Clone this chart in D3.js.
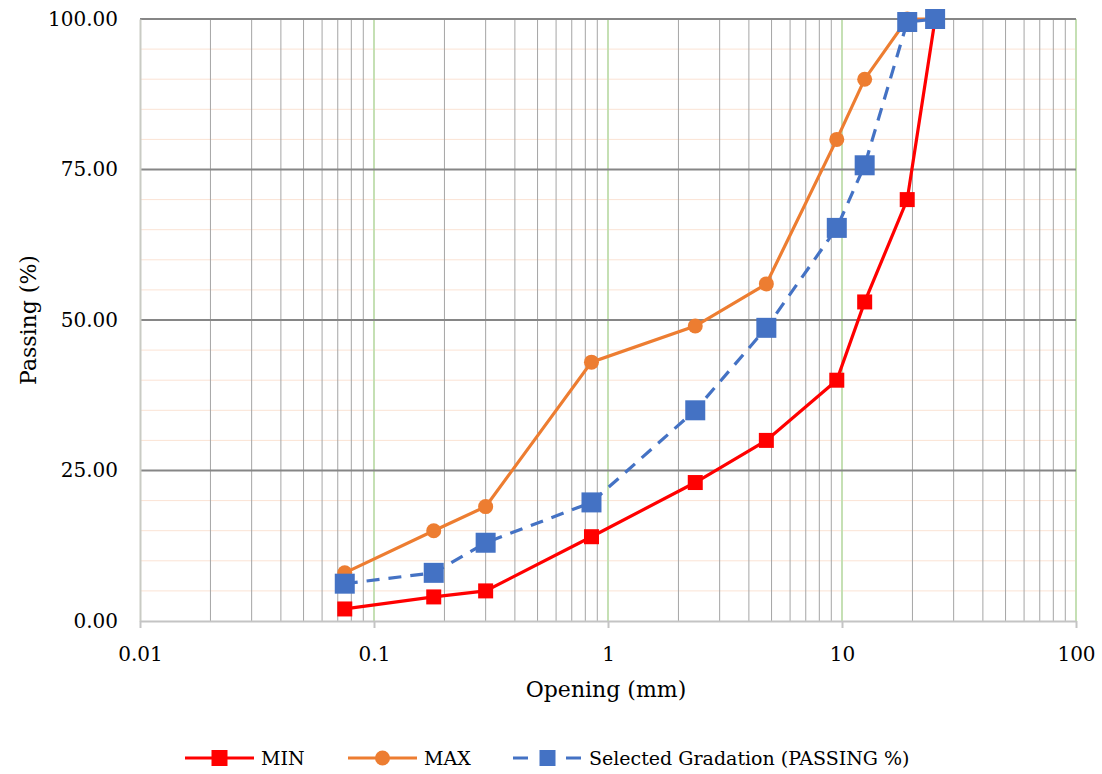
<!DOCTYPE html>
<html>
<head>
<meta charset="utf-8">
<script src="https://cdn.jsdelivr.net/npm/d3@7/dist/d3.min.js"></script>
<style>
  html, body { margin: 0; padding: 0; background: #fff; }
  svg { display: block; font-family: "DejaVu Serif", "Liberation Serif", serif; }
</style>
</head>
<body>
<svg id="chart" width="1102" height="774"></svg>
<script>
// Sieve openings (mm)
const openings = [0.075, 0.18, 0.3, 0.85, 2.36, 4.75, 9.5, 12.5, 19, 25];
// Gradation limits and selected gradation (% passing)
const minPassing = [2, 4, 5, 14, 23, 30, 40, 53, 70, 100];
const maxPassing = [8, 15, 19, 43, 49, 56, 80, 90, 100, 100];
const selectedPassing = [6.2, 8, 13, 19.7, 35, 48.7, 65.3, 75.7, 99.5, 100];

const xTicks = [0.01, 0.1, 1, 10, 100];
const xTickLabels = ["0.01", "0.1", "1", "10", "100"];
const yTicks = [0, 25, 50, 75, 100];

const seriesNames = ["MIN", "MAX", "Selected Gradation (PASSING %)"];

(function () {
const svg = d3.select("#chart");
const plotLeft = 140, plotRight = 1076, plotTop = 19, plotBottom = 621;

const x = d3.scaleLog().domain([0.01, 100]).range([plotLeft, plotRight]);
const y = d3.scaleLinear().domain([0, 100]).range([plotBottom, plotTop]);

const grid = svg.append("g");

// minor horizontal gridlines every 5
d3.range(5, 100, 5).filter(v => v % 25 !== 0).forEach(v => {
  grid.append("line").attr("x1", plotLeft).attr("x2", plotRight)
    .attr("y1", y(v)).attr("y2", y(v))
    .attr("stroke", "#fbe3d4").attr("stroke-width", 1);
});

// minor vertical gridlines (2..9 within each decade)
const minorX = [];
for (let d = 0.01; d < 99; d *= 10) {
  for (let k = 2; k <= 9; k++) minorX.push(d * k);
}
minorX.forEach(v => {
  grid.append("line").attr("x1", x(v)).attr("x2", x(v))
    .attr("y1", plotTop).attr("y2", plotBottom)
    .attr("stroke", "#a5a5a5").attr("stroke-width", 1);
});

// major vertical gridlines at decades
xTicks.slice(1).forEach(v => {
  grid.append("line").attr("x1", x(v)).attr("x2", x(v))
    .attr("y1", plotTop).attr("y2", plotBottom)
    .attr("stroke", "#c5e0b4").attr("stroke-width", 2);
});

// major horizontal gridlines
yTicks.filter(v => v > 0).forEach(v => {
  grid.append("line").attr("x1", plotLeft).attr("x2", plotRight)
    .attr("y1", y(v)).attr("y2", y(v))
    .attr("stroke", "#868686").attr("stroke-width", 2);
});

// y axis
const yAxis = d3.axisLeft(y).tickValues(yTicks).tickFormat(d3.format(".2f")).tickSize(0).tickPadding(22);
const gy = svg.append("g").attr("transform", `translate(${plotLeft},0)`).call(yAxis);
gy.select(".domain").attr("stroke", "#c9cbc4").attr("stroke-width", 2);
gy.selectAll("text").attr("font-size", 20).attr("fill", "#000")
  .attr("font-family", "DejaVu Serif, serif");

// x axis
const xAxis = d3.axisBottom(x).tickValues(xTicks).tickFormat((d, i) => xTickLabels[i]).tickSize(7).tickSizeOuter(0).tickPadding(19);
const gx = svg.append("g").attr("transform", `translate(0,${plotBottom})`).call(xAxis);
gx.select(".domain").attr("stroke", "#c4c4c4").attr("stroke-width", 2);
gx.selectAll(".tick line").attr("stroke", "#c4c4c4").attr("stroke-width", 2);
gx.selectAll("text").attr("font-size", 20).attr("fill", "#000")
  .attr("font-family", "DejaVu Serif, serif");

// axis titles
svg.append("text").attr("x", 606).attr("y", 697).attr("text-anchor", "middle")
  .attr("font-size", 22).text("Opening (mm)");
svg.append("text").attr("transform", "translate(36,320) rotate(-90)")
  .attr("text-anchor", "middle").attr("font-size", 22).text("Passing (%)");

const line = d3.line().x(d => x(d[0])).y(d => y(d[1]));
const pts = vals => openings.map((o, i) => [o, vals[i]]);

const plot = svg.append("g");

// MIN
plot.append("path").datum(pts(minPassing)).attr("d", line)
  .attr("fill", "none").attr("stroke", "#ff0000").attr("stroke-width", 3.2);
plot.selectAll(".minpt").data(pts(minPassing)).join("rect")
  .attr("x", d => x(d[0]) - 7.5).attr("y", d => y(d[1]) - 7.5)
  .attr("width", 15).attr("height", 15).attr("fill", "#ff0000");

// MAX
plot.append("path").datum(pts(maxPassing)).attr("d", line)
  .attr("fill", "none").attr("stroke", "#ed7d31").attr("stroke-width", 3.2);
plot.selectAll(".maxpt").data(pts(maxPassing)).join("circle")
  .attr("cx", d => x(d[0])).attr("cy", d => y(d[1])).attr("r", 7.5)
  .attr("fill", "#ed7d31");

// Selected gradation
plot.append("path").datum(pts(selectedPassing)).attr("d", line)
  .attr("fill", "none").attr("stroke", "#4472c4").attr("stroke-width", 3.2)
  .attr("stroke-dasharray", "13,9");
plot.selectAll(".selpt").data(pts(selectedPassing)).join("rect")
  .attr("x", d => x(d[0]) - 10).attr("y", d => y(d[1]) - 10)
  .attr("width", 20).attr("height", 20).attr("fill", "#4472c4");

// legend
const legend = svg.append("g").attr("transform", "translate(0,758)");
const legendItems = [
  { x: 185, color: "#ff0000", dash: null, marker: "square" },
  { x: 348, color: "#ed7d31", dash: null, marker: "circle" },
  { x: 513, color: "#4472c4", dash: "15,38,15", marker: "square" }
];
legendItems.forEach((it, i) => {
  const g = legend.append("g");
  g.append("line").attr("x1", it.x).attr("x2", it.x + 69).attr("y1", 0).attr("y2", 0)
    .attr("stroke", it.color).attr("stroke-width", 3.2)
    .attr("stroke-dasharray", it.dash);
  if (it.marker === "square") {
    g.append("rect").attr("x", it.x + 34.5 - 8).attr("y", -8)
      .attr("width", 16).attr("height", 16).attr("fill", it.color);
  } else {
    g.append("circle").attr("cx", it.x + 34.5).attr("cy", 0).attr("r", 7.5).attr("fill", it.color);
  }
  g.append("text").attr("x", it.x + 76).attr("y", 7).attr("font-size", 19)
    .attr("fill", "#000").text(seriesNames[i]);
});
})();
</script>
</body>
</html>
